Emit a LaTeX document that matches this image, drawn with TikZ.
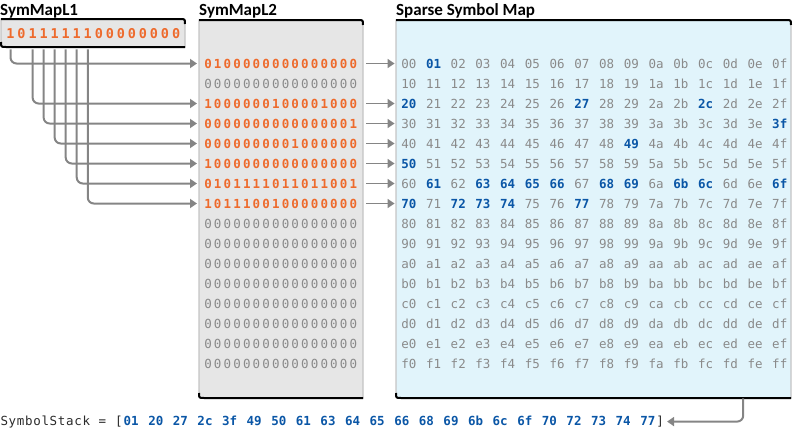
\documentclass[tikz,border=0pt]{standalone}
\usepackage{fontspec}
\setmainfont{Carlito}
\newfontfamily\mono{DejaVu Sans Mono}
\usetikzlibrary{arrows.meta,calc}
\definecolor{orng}{HTML}{EE6A2C}
\definecolor{gtxt}{HTML}{8A8A8A}
\definecolor{btxt}{HTML}{0A56A6}
\definecolor{boxgrey}{HTML}{E6E6E6}
\definecolor{boxblue}{HTML}{E1F4FB}
\definecolor{sidegrey}{HTML}{C4C4C4}
\definecolor{arrgrey}{HTML}{858585}
\definecolor{dtxt}{HTML}{2A2A2A}
\ExplSyntaxOn
\NewDocumentCommand\spaced{mm}{\exp_args:No \tl_map_inline:nn {#2} {\makebox[#1]{##1}}}
\ExplSyntaxOff
\newcommand\panel[6]{%
  \node[inner sep=0, minimum width={#4-#2}, minimum height={#5-#3}, anchor=north west] (#1) at (#2,#3) {};
  \fill[#6] (#2,#3) -- ({#4-5},#3) .. controls (#4,#3) .. (#4,{#3+5}) -- (#4,#5) -- ({#2+5},#5) .. controls (#2,#5) .. (#2,{#5-5}) -- cycle;
  \draw[sidegrey, line width=1.2] (#2,#3) -- ({#4-5},#3) .. controls (#4,#3) .. (#4,{#3+5}) -- (#4,#5) -- ({#2+5},#5) .. controls (#2,#5) .. (#2,{#5-5}) -- cycle;
  \draw[black, line width=2] (#2,#3) -- ({#4-5},#3) .. controls (#4,#3) .. (#4,{#3+5});
  \draw[black, line width=2] (#4,#5) -- ({#2+5},#5) .. controls (#2,#5) .. (#2,{#5-5});
}
\tikzset{
  title/.style={font=\bfseries\fontsize{17}{20}\selectfont, inner sep=0, anchor=base west},
  bitone/.style={font=\mono\bfseries\fontsize{13.5}{15}\selectfont, text=orng, inner sep=0},
  hot/.style={font=\mono\bfseries\fontsize{12.5}{14}\selectfont, text=orng, inner sep=0},
  cold/.style={font=\mono\fontsize{12.5}{14}\selectfont, text=gtxt, inner sep=0},
  hex/.style={font=\mono\fontsize{12.5}{14}\selectfont, text=gtxt, inner sep=0},
  bot/.style={font=\mono\fontsize{12.5}{14}\selectfont, text=dtxt, inner sep=0, anchor=base},
  botv/.style={font=\mono\bfseries\fontsize{12.5}{14}\selectfont, text=btxt, inner sep=0, anchor=base},
  conn/.style={draw=arrgrey, line width=2, rounded corners=6pt, -{Triangle[length=7pt,width=9pt]}},
}
\begin{document}
\begin{tikzpicture}[x=1pt,y=-1pt]
\useasboundingbox (0,0) rectangle (793,431);
% titles
\node[title] (t1) at (0,15.5) {SymMapL1};
\node[title] (t2) at (199,15.5) {SymMapL2};
\node[title] (t3) at (396,15.5) {Sparse Symbol Map};
% panels
\panel{l1}{1}{19}{185}{47}{boxgrey}
\panel{l2}{199}{20}{363}{398}{boxgrey}
\panel{sp}{396}{20}{791}{398}{boxblue}
% L1 bits
\foreach \d [count=\i from 0] in {1,0,1,1,1,1,1,1,0,0,0,0,0,0,0,0}
  \node[bitone] (b\i) at ({10.5+11.04*\i},33.5) {\d};
% L2 rows
\foreach \bits/\sty [count=\r from 0] in {
  0100000000000000/hot, 0000000000000000/cold, 1000000100001000/hot,
  0000000000000001/hot, 0000000001000000/hot, 1000000000000000/hot,
  0101111011011001/hot, 1011100100000000/hot, 0000000000000000/cold,
  0000000000000000/cold, 0000000000000000/cold, 0000000000000000/cold,
  0000000000000000/cold, 0000000000000000/cold, 0000000000000000/cold,
  0000000000000000/cold}
  \node[\sty, anchor=west] (m\r) at (203,{63.5+20*\r}) {\spaced{9.69pt}{\bits}};
% sparse map
\foreach \hx in {01,20,27,2c,3f,49,50,61,63,64,65,66,68,69,6b,6c,6f,70,72,73,74,77}
  {\expandafter\gdef\csname isblue@\hx\endcsname{}}
\foreach \hi [count=\r from 0] in {0,1,2,3,4,5,6,7,8,9,a,b,c,d,e,f}
  \foreach \lo [count=\c from 0] in {0,1,2,3,4,5,6,7,8,9,a,b,c,d,e,f}
    \node[hex] (s\hi\lo) at ({408.8+24.73*\c},{63.5+20*\r})
      {\vphantom{0}\ifcsname isblue@\hi\lo\endcsname\color{btxt}\bfseries\fi\hi\lo};
% L1 -> L2 connectors
\foreach \i in {0,2,3,4,5,6,7}
  \draw[conn] ($(b\i |- l1.south)+(0,2)$) |- ([xshift=-6pt]m\i.west);
% L2 -> sparse connectors
\foreach \i in {0,2,3,4,5,6,7}
  \draw[conn, line width=1.6] ([xshift=8pt]m\i.east) -- ([xshift=-6.5pt]s\i0.west);
% bottom line
\node[bot, anchor=base west] (lbl) at (0,425.5) {\spaced{8.2pt}{SymbolStack}};
\node[bot] (eq) at (102.5,425.5) {=};
\node[bot] (lb) at (118.9,425.5) {[};
\foreach \v [count=\k from 0] in {01,20,27,2c,3f,49,50,61,63,64,65,66,68,69,6b,6c,6f,70,72,73,74,77}
  \node[botv] (v\k) at ({131.2+24.6*\k},425.5) {\v};
\node[bot] (rb) at (660.1,425.5) {]};
\draw[conn] ([xshift=149.5pt]sp.south) |- ([xshift=3pt]rb.east);
\end{tikzpicture}
\end{document}
